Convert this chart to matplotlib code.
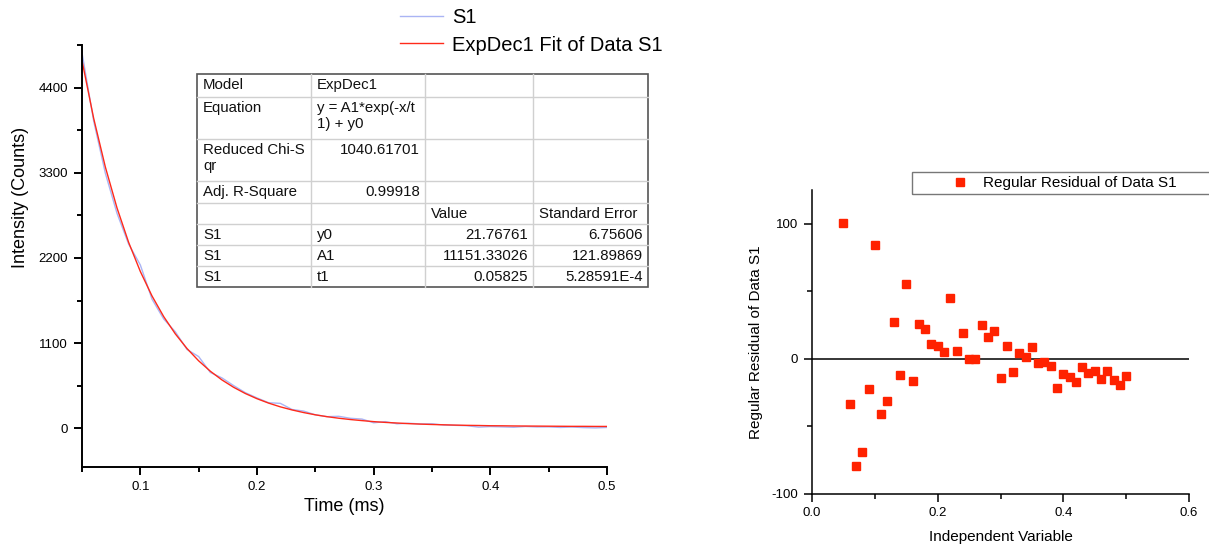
#!/usr/bin/env python3

import matplotlib
matplotlib.use("Agg")
import matplotlib.pyplot as plt
from matplotlib.patches import Rectangle
from matplotlib.ticker import MultipleLocator, FormatStrFormatter
#----

plt.rcParams['font.family'] = ['Liberation Sans', 'DejaVu Sans']
plt.rcParams['axes.unicode_minus'] = False

# Time axis (ms), shared by data, fit and residuals
time_ms = [0.05, 0.06, 0.07, 0.08, 0.09, 0.10, 0.11, 0.12, 0.13, 0.14,
           0.15, 0.16, 0.17, 0.18, 0.19, 0.20, 0.21, 0.22, 0.23, 0.24,
           0.25, 0.26, 0.27, 0.28, 0.29, 0.30, 0.31, 0.32, 0.33, 0.34,
           0.35, 0.36, 0.37, 0.38, 0.39, 0.40, 0.41, 0.42, 0.43, 0.44,
           0.45, 0.46, 0.47, 0.48, 0.49, 0.50]

# Measured intensity S1 (counts)
s1_counts = [4849, 3969, 3295, 2777, 2378, 2109, 1668, 1412, 1246, 1018,
             926, 721, 650, 551, 460, 392, 330, 322, 243, 222,
             174, 150, 155, 129, 119, 71, 86, 58, 65, 56,
             58, 42, 38, 33, 15, 22, 18, 13, 23, 17,
             18, 11, 16, 9, 5, 11]

# ExpDec1 fit curve (counts)
fit_counts = [4748, 4003, 3375, 2846, 2400, 2025, 1709, 1443, 1219, 1030,
              871, 737, 624, 529, 449, 382, 325, 277, 237, 203,
              174, 150, 130, 113, 99, 86, 76, 68, 60, 54,
              49, 45, 41, 38, 36, 33, 32, 30, 29, 28,
              27, 26, 25, 25, 24, 24]

# Regular residuals of the fit
residuals = [100.7, -33.7, -79.6, -69.0, -22.2, 84.0, -41.1, -30.8, 27.3, -11.8,
             55.2, -16.0, 25.9, 21.9, 11.1, 9.6, 5.2, 44.8, 6.2, 19.2,
             -0.2, -0.2, 24.9, 16.3, 20.4, -14.5, 9.9, -9.9, 4.7, 1.7,
             8.9, -2.7, -2.5, -5.2, -21.4, -11.3, -13.5, -17.0, -5.7, -10.6,
             -8.6, -14.8, -9.1, -15.5, -19.2, -12.8]

# Fit report table
table_rows = [
    ["Model", "ExpDec1", "", ""],
    ["Equation", "y = A1*exp(-x/t\n1) + y0", "", ""],
    ["Reduced Chi-S\nqr", "1040.61701", "", ""],
    ["Adj. R-Square", "0.99918", "", ""],
    ["", "", "Value", "Standard Error"],
    ["S1", "y0", "21.76761", "6.75606"],
    ["S1", "A1", "11151.33026", "121.89869"],
    ["S1", "t1", "0.05825", "5.28591E-4"],
]

W, H = 1209, 544
fig = plt.figure(figsize=(W / 100, H / 100), dpi=100)

def px_rect(x0, y0, x1, y1):
  return [x0 / W, 1 - y1 / H, (x1 - x0) / W, (y1 - y0) / H]

def style_axes(ax, lw):
  for side in ['top', 'right']:
    ax.spines[side].set_visible(False)
  for side in ['left', 'bottom']:
    ax.spines[side].set_linewidth(lw)
  ax.tick_params(which='major', direction='out', length=6, width=lw, labelsize=9.5, pad=4)
  ax.tick_params(which='minor', direction='out', length=3.5, width=lw)

# ---- left: decay + fit
ax1 = fig.add_axes(px_rect(82, 45, 607, 467))
ax1.plot(time_ms, s1_counts, color='#aab4f4', lw=1.0, label='S1')
ax1.plot(time_ms, fit_counts, color='#ff2a1a', lw=1.0, label='ExpDec1 Fit of Data S1')
ax1.set_xlim(0.05, 0.5)
ax1.set_ylim(-500, 4950)
ax1.xaxis.set_major_locator(MultipleLocator(0.1))
ax1.xaxis.set_minor_locator(MultipleLocator(0.05))
ax1.yaxis.set_major_locator(MultipleLocator(1100))
ax1.yaxis.set_minor_locator(MultipleLocator(550))
style_axes(ax1, 1.4)
ax1.set_xlabel('Time (ms)', fontsize=13, labelpad=4)
ax1.set_ylabel('Intensity (Counts)', fontsize=13)
ax1.yaxis.set_label_coords((29 - 82) / 525, (467 - 197) / 422)
ax1.legend(loc='center left', bbox_to_anchor=(400 / W, 1 - 31.5 / H),
           bbox_transform=fig.transFigure, frameon=False, fontsize=14.5,
           handlelength=2.15, handletextpad=0.45, labelspacing=0.4,
           borderpad=0, borderaxespad=0)

# ---- right: residuals
ax2 = fig.add_axes(px_rect(812, 190, 1189, 494))
ax2.axhline(0, color='black', lw=1.1, zorder=1)
ax2.plot(time_ms, residuals, ls='none', marker='s', ms=5.5, color='#ff2200',
         mec='#ff2200', label='Regular Residual of Data S1', zorder=3)
ax2.set_xlim(0, 0.6)
ax2.set_ylim(-100, 125)
ax2.xaxis.set_major_locator(MultipleLocator(0.2))
ax2.xaxis.set_minor_locator(MultipleLocator(0.1))
ax2.yaxis.set_major_locator(MultipleLocator(100))
ax2.yaxis.set_minor_locator(MultipleLocator(50))
ax2.xaxis.set_major_formatter(FormatStrFormatter('%.1f'))
style_axes(ax2, 1.1)
ax2.tick_params(axis='x', which='major', pad=3)
ax2.set_xlabel('Independent Variable', fontsize=11, labelpad=8)
ax2.set_ylabel('Regular Residual of Data S1', fontsize=11, labelpad=6)
fig.patches.append(Rectangle((912 / W, 1 - 194 / H), 310 / W, 22 / H,
                             transform=fig.transFigure, fill=False,
                             edgecolor='#777777', lw=1.0))
ax2.legend(loc='center left', bbox_to_anchor=(952 / W, 1 - 183 / H),
           bbox_transform=fig.transFigure, frameon=False, fontsize=11,
           handlelength=1.0, handletextpad=1.05, borderpad=0, borderaxespad=0,
           numpoints=1)

# ---- fit report table, drawn in pixel space
tab = fig.add_axes([0, 0, 1, 1], zorder=5)
tab.set_xlim(0, W)
tab.set_ylim(H, 0)
tab.axis('off')
col_edges = [197, 311, 425, 533, 648]
row_edges = [74, 97, 139, 181, 203, 224, 245, 266, 287]
x0, y0 = col_edges[0], row_edges[0]
tw, th = col_edges[-1] - x0, row_edges[-1] - y0
tab.add_patch(Rectangle((x0, y0), tw, th, facecolor='white', edgecolor='none'))
for x in col_edges[1:-1]:
  tab.plot([x, x], [row_edges[0], row_edges[-1]], color='#d0d0d0', lw=1)
for y in row_edges[1:-1]:
  tab.plot([col_edges[0], col_edges[-1]], [y, y], color='#d0d0d0', lw=1)
tab.add_patch(Rectangle((x0, y0), tw, th, fill=False, edgecolor='#555555', lw=1.2))
for r, row in enumerate(table_rows):
  for c, txt in enumerate(row):
    if not txt:
      continue
    if txt[0].isdigit():
      x, ha = col_edges[c + 1] - 5, 'right'
    else:
      x, ha = col_edges[c] + 6, 'left'
    tab.text(x, row_edges[r] + 4, txt, ha=ha, va='top', fontsize=10.8,
             linespacing=1.2, color='#111111')

plt.savefig('out.png', dpi=100)
